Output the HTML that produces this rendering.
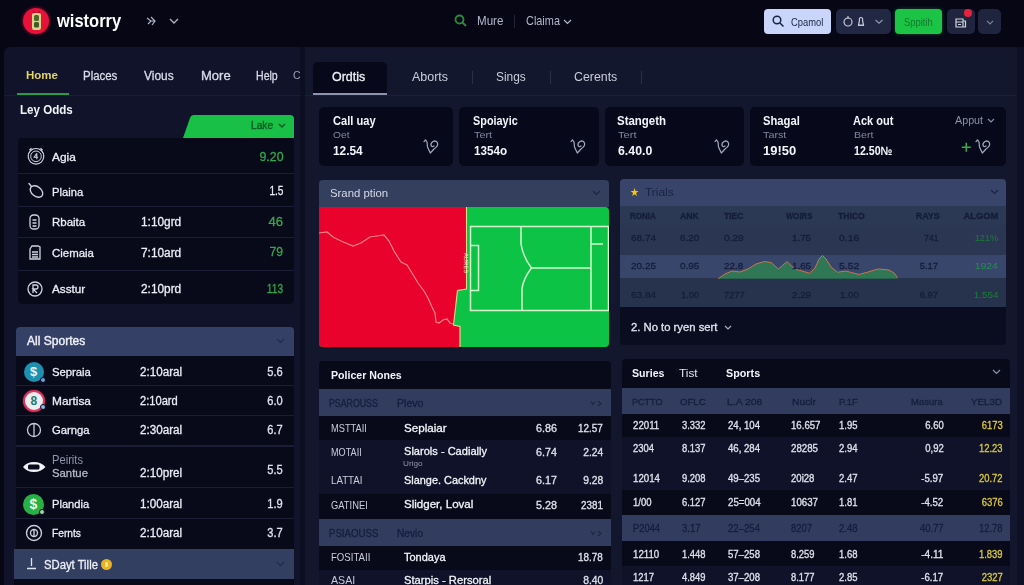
<!DOCTYPE html>
<html><head><meta charset="utf-8">
<style>
*{box-sizing:border-box;margin:0;padding:0}
html,body{width:1024px;height:585px;overflow:hidden;background:#060615;font-family:"Liberation Sans",sans-serif;color:#e8eaf2}
.a{position:absolute}
.t{position:absolute;white-space:nowrap;line-height:1;filter:blur(.3px)}
.card{background:#070819;border-radius:5px;top:107px;height:59px}
.slate{background:#313c5f}
.dark{background:#080919}
.mid{background:#0f1228}
.ln{height:1px;background:#1a1d33}
svg{position:absolute;overflow:visible}
</style></head><body>
<!-- HEADER -->
<div class="a" style="left:23px;top:7.500px;width:26px;height:26px;border-radius:50%;background:#e6123a;box-shadow:0 0 3px 1px rgba(230,18,58,.45)"></div>
<svg style="left:31px;top:11px" width="11" height="20" viewBox="0 0 11 20"><rect x="1" y="2" width="9" height="17" rx="2" fill="#dcd28c"/><rect x="3" y="4" width="5" height="6" rx="1.500" fill="#4d6a2a"/><rect x="3" y="11" width="5" height="5.500" rx="1.500" fill="#3f5a24"/><circle cx="3" cy="1.200" r=".8" fill="#7a1020"/><circle cx="8" cy="1.200" r=".8" fill="#7a1020"/></svg>
<svg style="left:144px;top:14px" width="14" height="14" viewBox="0 0 14 14" fill="none" stroke="#aeb3c6" stroke-width="1.2"><path d="M3 4l4 3-3 3M7 3l4 4-3 4M6 7l5 0"/></svg>
<svg style="left:169px;top:18px" width="10" height="6" viewBox="0 0 10 6" fill="none" stroke="#aeb3c6" stroke-width="1.3"><path d="M1 1l4 4 4-4"/></svg>
<svg style="left:454px;top:14px" width="14" height="14" viewBox="0 0 14 14"><circle cx="5.5" cy="5.5" r="4" fill="none" stroke="#2b8d3a" stroke-width="1.8"/><path d="M8.500 8.500L12 12" stroke="#2b8d3a" stroke-width="1.8"/></svg>
<div class="a" style="left:514px;top:15px;width:1px;height:13px;background:#20243a"></div>
<svg style="left:563px;top:18.500px" width="9" height="6" viewBox="0 0 9 6" fill="none" stroke="#b4b8cb" stroke-width="1.2"><path d="M1 1l3.500 3.500L8 1"/></svg>
<div class="a" style="left:764px;top:9px;width:67px;height:25px;border-radius:4px;background:#c9d5fa"></div>
<div class="a" style="left:836px;top:9px;width:55px;height:25px;border-radius:5px;background:#222843"></div>
<div class="a" style="left:895px;top:9px;width:47px;height:25px;border-radius:4px;background:#1cc446;box-shadow:0 0 4px rgba(28,196,70,.35)"></div>
<div class="a" style="left:947px;top:9px;width:27.500px;height:25px;border-radius:5px;background:#20253f"></div>
<div class="a" style="left:978px;top:9px;width:23px;height:25px;border-radius:5px;background:#20253f"></div>
<svg style="left:772px;top:15px" width="13" height="13" viewBox="0 0 13 13" fill="none" stroke="#1b2344" stroke-width="1.5"><circle cx="5" cy="5" r="3.800"/><path d="M8 8l3.500 3.500"/></svg>
<svg style="left:842px;top:15px" width="44" height="13" viewBox="0 0 44 13" fill="none" stroke="#c3c7d6" stroke-width="1.2"><circle cx="6" cy="7" r="4"/><path d="M6 1v3"/><path d="M19 2.500c-1.500 0-2 1.500-1.500 3l-1 4.500h5l-1-4.500c.5-1.500 0-3-1.500-3zM16 10.500h6"/><path d="M33.500 5l3.500 3.300L40.500 5" stroke="#8f96b0"/></svg>
<svg style="left:954px;top:16px" width="13" height="12" viewBox="0 0 13 12" fill="none" stroke="#d0d3df" stroke-width="1.2"><path d="M2 3h7v8H2zM9 5h2.500v6H9M2 6h7M4 8.500h3"/></svg>
<div class="a" style="left:964px;top:8.500px;width:8px;height:8px;border-radius:50%;background:#e8213f"></div>
<svg style="left:985.500px;top:19.500px" width="8" height="5" viewBox="0 0 8 5" fill="none" stroke="#7a82a0" stroke-width="1.2"><path d="M1 .8l3 3 3-3"/></svg>

<!-- PANELS -->
<div class="a" style="left:4px;top:47px;width:297px;height:538px;background:#10132a;border-radius:6px 0 0 0"></div>
<div class="a" style="left:300px;top:47px;width:5px;height:538px;background:#0c0e22"></div>
<div class="a" style="left:305px;top:47px;width:712px;height:538px;background:#13172e"></div>
<div class="a" style="left:1017px;top:47px;width:7px;height:538px;background:#0e1126"></div>
<div class="a" style="left:4px;top:95px;width:297px;height:1px;background:#1a1e35"></div>
<div class="a" style="left:305px;top:95px;width:712px;height:1px;background:#1b2038"></div>
<div class="a" style="left:17px;top:93px;width:52px;height:2px;background:#2a9a45"></div>

<!-- GREEN TAB -->
<svg style="left:180px;top:115px" width="116" height="23" viewBox="0 0 116 23"><path d="M3 23 L10 3 Q11 0 14 0 L110 0 Q114 0 114 4 L114 23 Z" fill="#18c045"/></svg>
<svg style="left:278px;top:123px" width="8" height="6" viewBox="0 0 8 6" fill="none" stroke="#0c5a25" stroke-width="1.4"><path d="M1 1l3 3 3-3"/></svg>
<!-- LEY ODDS LIST -->
<div class="a dark" style="left:18px;top:138px;width:276px;height:166px;border-radius:4px"></div>
<div class="a ln" style="left:18px;top:173px;width:276px"></div>
<div class="a ln" style="left:18px;top:206px;width:276px"></div>
<div class="a ln" style="left:18px;top:237px;width:276px"></div>
<div class="a ln" style="left:18px;top:270px;width:276px"></div>
<svg style="left:26px;top:145.500px" width="20" height="20" viewBox="0 0 20 20" fill="none" stroke="#d0d3df" stroke-width="1.2"><circle cx="10" cy="10.300" r="7.800"/><circle cx="10" cy="10.300" r="5.300" stroke-width="1"/><path d="M10.800 7.300l-2.600 4h4M10.800 7.300v6" stroke-width="1.100"/><path d="M3.500 4.200l2-2M16.500 4.200l-2-2" stroke-width="1.400"/></svg>
<svg style="left:26px;top:181px" width="20" height="19" viewBox="0 0 20 19" fill="none" stroke="#d0d3df" stroke-width="1.400" stroke-linecap="round"><path d="M3 2.500l2.500 3"/><ellipse cx="10.500" cy="10.500" rx="7" ry="4.800" transform="rotate(38 10.500 10.500)"/></svg>
<svg style="left:27px;top:213px" width="16" height="18" viewBox="0 0 16 18" fill="none" stroke="#d0d3df" stroke-width="1.3"><rect x="3" y="2" width="9" height="14" rx="3.500"/><path d="M5.500 7h4M5.500 10h4M5.500 13h4"/></svg>
<svg style="left:27px;top:244px" width="16" height="18" viewBox="0 0 16 18" fill="none" stroke="#d0d3df" stroke-width="1.3"><path d="M3 5l2-3h6l2 1v12H3z"/><path d="M5 8h6M5 10.500h6M5 13h6"/></svg>
<svg style="left:26px;top:280px" width="18" height="18" viewBox="0 0 18 18" fill="none" stroke="#d0d3df" stroke-width="1.3"><circle cx="9" cy="9" r="7"/><path d="M7 13V5h3a2 2 0 010 4H7l4 4"/></svg>

<!-- ALL SPORTES -->
<div class="a" style="left:16px;top:327px;width:278px;height:29px;border-radius:4px 4px 0 0;background:#344065"></div>
<svg style="left:276px;top:338px" width="9" height="6" viewBox="0 0 9 6" fill="none" stroke="#222b4c" stroke-width="1.2"><path d="M1 1l3.500 3.500L8 1"/></svg>
<div class="a dark" style="left:16px;top:356px;width:278px;height:193px"></div>
<div class="a ln" style="left:16px;top:385px;width:278px"></div>
<div class="a ln" style="left:16px;top:415px;width:278px"></div>
<div class="a ln" style="left:16px;top:445px;width:278px;height:2px"></div>
<div class="a ln" style="left:16px;top:487px;width:278px"></div>
<div class="a ln" style="left:16px;top:518px;width:278px"></div>
<div class="a" style="left:14px;top:549px;width:280px;height:30px;background:#333f60"></div>
<div class="a dark" style="left:14px;top:579px;width:280px;height:6px"></div>
<svg style="left:26px;top:557px" width="11" height="13" viewBox="0 0 11 13" fill="none" stroke="#dfe2ee" stroke-width="1.3"><path d="M5.500 1v8M1 11.500h9"/></svg>
<div class="a" style="left:101px;top:559px;width:11px;height:11px;border-radius:50%;background:#e9b320"></div>
<div class="a" style="left:105px;top:562px;width:3px;height:5px;border-radius:1px;background:#f7e08a"></div>
<svg style="left:276px;top:561px" width="9" height="6" viewBox="0 0 9 6" fill="none" stroke="#222b4c" stroke-width="1.2"><path d="M1 1l3.500 3.500L8 1"/></svg>
<!-- sport icons -->
<div class="a" style="left:24px;top:362px;width:20px;height:20px;border-radius:50%;background:#1d90b0"></div>
<div class="a" style="left:30px;top:365px;font-size:13px;font-weight:bold;color:#e6f6fa;line-height:14px">$</div>
<div class="a" style="left:23px;top:390px;width:22px;height:22px;border-radius:50%;background:#ececf2;border:2px solid #d9365c;box-shadow:0 0 2px rgba(217,54,92,.6)"></div>
<div class="a" style="left:30.500px;top:394px;font-size:12px;font-weight:bold;color:#1a7a6a;line-height:14px">8</div>
<svg style="left:25px;top:421px" width="18" height="18" viewBox="0 0 18 18" fill="none" stroke="#c8ccd8" stroke-width="1.3"><circle cx="9" cy="9" r="6.500"/><path d="M9 3v12"/></svg>
<svg style="left:22px;top:461px" width="24" height="12" viewBox="0 0 24 12"><path d="M1 6Q5 1 12 1T23.500 6Q19 11 12 11T1 6Z" fill="#f2f3f8"/><rect x="6" y="3.500" width="11.500" height="5" rx="1.500" fill="#0a0b1c"/></svg>
<div class="a" style="left:23px;top:494px;width:21px;height:21px;border-radius:50%;background:#27b043"></div>
<div class="a" style="left:29.500px;top:497px;font-size:14px;font-weight:bold;color:#eafbe9;line-height:15px">$</div>
<svg style="left:24px;top:523px" width="20" height="20" viewBox="0 0 20 20" fill="none" stroke="#c8ccd8" stroke-width="1.4"><circle cx="10" cy="10" r="7.500"/><circle cx="10" cy="10" r="3.500"/><path d="M10 6.500v7"/></svg>

<div class="a" style="left:40px;top:377px;width:6px;height:6px;border-radius:50%;background:#6f9fca;border:1px solid #0a0b1c"></div>
<div class="a" style="left:40px;top:404px;width:6px;height:6px;border-radius:50%;background:#8fb8e2;border:1px solid #0a0b1c"></div>
<div class="a" style="left:39px;top:509px;width:6px;height:6px;border-radius:50%;background:#9fd4b0;border:1px solid #0a0b1c"></div>
<!-- MAIN TABS -->
<div class="a" style="left:313px;top:62px;width:74px;height:32px;background:#070819;border-radius:5px 5px 0 0"></div>
<div class="a" style="left:313px;top:93px;width:74px;height:2px;background:#8c93ad"></div>
<div class="a" style="left:472px;top:71px;width:1px;height:13px;background:#2a2f48"></div>
<div class="a" style="left:550px;top:71px;width:1px;height:13px;background:#2a2f48"></div>
<div class="a" style="left:641px;top:71px;width:1px;height:13px;background:#2a2f48"></div>
<!-- CARDS -->
<div class="a card" style="left:319px;width:134px"></div>
<div class="a card" style="left:459px;width:140px"></div>
<div class="a card" style="left:605px;width:139px"></div>
<div class="a card" style="left:750px;width:256px"></div>
<svg style="left:987px;top:117.500px" width="8" height="6" viewBox="0 0 8 6" fill="none" stroke="#8a90a8" stroke-width="1.2"><path d="M1 1l3 3 3-3"/></svg>
<svg style="left:961px;top:142px" width="11" height="11" viewBox="0 0 11 11" fill="none" stroke="#3aa84a" stroke-width="1.600"><path d="M5.300 .8v9M.8 5.300h9"/></svg>
<svg style="left:422px;top:138px" width="18" height="17" viewBox="0 0 18 17" fill="none" stroke="#a2a7bd" stroke-width="1.25" stroke-linejoin="round" stroke-linecap="round"><path d="M2 3.600L3.500 1.900L5 4L5.500 9L8.300 15L12 11Q16.500 8 15.500 5Q14 2 11 3.500Q8.500 5 9 7.500Q10 9.500 12 8"/></svg>
<svg style="left:569px;top:138px" width="18" height="17" viewBox="0 0 18 17" fill="none" stroke="#a2a7bd" stroke-width="1.25" stroke-linejoin="round" stroke-linecap="round"><path d="M2 3.600L3.500 1.900L5 4L5.500 9L8.300 15L12 11Q16.500 8 15.500 5Q14 2 11 3.500Q8.500 5 9 7.500Q10 9.500 12 8"/></svg>
<svg style="left:713px;top:138px" width="18" height="17" viewBox="0 0 18 17" fill="none" stroke="#a2a7bd" stroke-width="1.25" stroke-linejoin="round" stroke-linecap="round"><path d="M2 3.600L3.500 1.900L5 4L5.500 9L8.300 15L12 11Q16.500 8 15.500 5Q14 2 11 3.500Q8.500 5 9 7.500Q10 9.500 12 8"/></svg>
<svg style="left:974px;top:138px" width="18" height="17" viewBox="0 0 18 17" fill="none" stroke="#a2a7bd" stroke-width="1.25" stroke-linejoin="round" stroke-linecap="round"><path d="M2 3.600L3.500 1.900L5 4L5.500 9L8.300 15L12 11Q16.500 8 15.500 5Q14 2 11 3.500Q8.500 5 9 7.500Q10 9.500 12 8"/></svg>
<!-- SRAND PTION -->
<div class="a" style="left:319px;top:180px;width:290px;height:27px;background:#343f5e;border-radius:4px 4px 0 0"></div>
<svg style="left:592px;top:190px" width="9" height="6" viewBox="0 0 9 6" fill="none" stroke="#1c2540" stroke-width="1.2"><path d="M1 1l3.500 3.500L8 1"/></svg>
<svg style="left:319px;top:207px" width="290" height="140" viewBox="0 0 290 140">
<defs><clipPath id="cp"><path d="M0 0H286Q290 0 290 4V136Q290 140 286 140H4Q0 140 0 136Z"/></clipPath></defs>
<g clip-path="url(#cp)">
<rect width="290" height="140" fill="#0cc345"/>
<path d="M0 0H147.500V82L138.500 83.500L134.500 118L141 119.500V140H0Z" fill="#e8022c"/>
<path d="M147.500 0V82L138.500 83.500L134.500 118L141 119.500V140" fill="none" stroke="#ecd98a" stroke-width="1.100"/>
<text x="0" y="0" transform="translate(145.300 46) rotate(90)" font-size="5.500" font-family="Liberation Sans" fill="#f3e9d0" letter-spacing=".3">AURES</text>
<path d="M0 26L8 25L14 30L22 34L34 39L42 36L51 30L58 29L65 28L70 34L75 44L82 55L88 58L93 66L99 76L105 84L109 91L113 100L116 106L117 115L120 116L124 113L128 112L131 116L134 117" fill="none" stroke="#ff8585" stroke-width="1.2"/>
<g fill="none" stroke="#d6fbcf" stroke-width="1.5">
<path d="M151.500 19.500H289.500V103.500H151.500Z"/>
<path d="M151.500 38.500H159.500V83.500H151.500"/>
<path d="M202 19.500V37Q204 50 212.500 61Q204 72 203 82V103.500"/>
<path d="M212.500 61H272"/>
<path d="M272 19.500V103.500"/>
<path d="M272 37H284"/>
</g>
</g></svg>
<!-- TRAILS -->
<div class="a" style="left:620px;top:179px;width:386px;height:27px;background:#38446a;border-radius:4px 4px 0 0"></div>
<div class="a" style="left:620px;top:206px;width:386px;height:19px;background:#2b3955"></div>
<div class="a" style="left:620px;top:225px;width:386px;height:30px;background:#2a3652"></div>
<div class="a" style="left:620px;top:255px;width:386px;height:23px;background:#38466c"></div>
<div class="a" style="left:620px;top:278px;width:386px;height:29px;background:#27334d"></div>
<div class="a" style="left:620px;top:307px;width:386px;height:38px;background:#0a0c1f;border-radius:0 0 4px 4px"></div>
<svg style="left:990px;top:189px" width="9" height="6" viewBox="0 0 9 6" fill="none" stroke="#1c2540" stroke-width="1.2"><path d="M1 1l3.500 3.500L8 1"/></svg>
<svg style="left:715px;top:250px" width="190" height="30" viewBox="0 0 190 30">
<path d="M3.3 28.7L10 24L17 21L25 22L33 19L41 14L49.4 11.5L56 12.5L63.4 19L68 15L72 11.5L75.5 15L79.5 19L87 21L94.5 23.3L100 18L104 9L107.4 5.5L111 9L116 17L122.5 22.2L131 21L138 23L144 24.4L152.5 22.2L158 20.5L163.3 19L169 19.5L174 20L179 23L182.6 27.5L182.600 28.700Z" fill="#2c8a4c" opacity=".72"/>
<path d="M3.3 28.7L10 24L17 21L25 22L33 19L41 14L49.4 11.5L56 12.5L63.4 19L68 15L72 11.5L75.5 15L79.5 19L87 21L94.5 23.3L100 18L104 9L107.4 5.5L111 9L116 17L122.5 22.2L131 21L138 23L144 24.4L152.5 22.2L158 20.5L163.3 19L169 19.5L174 20L179 23L182.6 27.5" fill="none" stroke="#cf7448" stroke-width="1" stroke-linejoin="round"/>
</svg>
<svg style="left:724px;top:325px" width="8" height="6" viewBox="0 0 8 6" fill="none" stroke="#aab0c4" stroke-width="1.2"><path d="M1 1l3 3 3-3"/></svg>
<!-- POLICER NONES -->
<div class="a dark" style="left:319px;top:361px;width:292px;height:224px;border-radius:4px 4px 0 0"></div>
<div class="a slate" style="left:319px;top:389px;width:292px;height:27px"></div>
<div class="a mid" style="left:319px;top:440px;width:292px;height:54px"></div>
<div class="a slate" style="left:319px;top:519px;width:292px;height:27px"></div>
<div class="a mid" style="left:319px;top:570px;width:292px;height:15px"></div>
<svg style="left:590px;top:400px" width="12" height="7" viewBox="0 0 12 7" fill="none" stroke="#1c2540" stroke-width="1.1"><path d="M1 1.500l2 3 2-3M8 1l3 2.500-3 2.500"/></svg>
<svg style="left:590px;top:530px" width="12" height="7" viewBox="0 0 12 7" fill="none" stroke="#1c2540" stroke-width="1.1"><path d="M1 1.500l2 3 2-3M8 1l3 2.500-3 2.500"/></svg>
<!-- SURIES -->
<div class="a dark" style="left:622px;top:359px;width:388px;height:226px;border-radius:4px 4px 0 0"></div>
<div class="a slate" style="left:622px;top:388px;width:388px;height:26px"></div>
<div class="a mid" style="left:622px;top:437px;width:388px;height:53px"></div>
<div class="a slate" style="left:622px;top:515px;width:388px;height:26px"></div>
<div class="a mid" style="left:622px;top:566px;width:388px;height:19px"></div>
<svg style="left:992px;top:369px" width="9" height="6" viewBox="0 0 9 6" fill="none" stroke="#8b92aa" stroke-width="1.2"><path d="M1 1l3.500 3.500L8 1"/></svg>

<!-- TEXT -->
<div class="t" style="top:20.9px;font-size:18.5px;color:#ffffff;font-weight:bold;left:56.8px;transform-origin:left center;transform:translateY(-50%) scaleX(0.892);">wistorry</div>
<div class="t" style="top:21px;font-size:12.2px;color:#b4b8cb;left:477px;transform-origin:left center;transform:translateY(-50%) scaleX(0.950);">Mure</div>
<div class="t" style="top:21px;font-size:12.2px;color:#b4b8cb;left:526px;transform-origin:left center;transform:translateY(-50%) scaleX(0.895);">Claima</div>
<div class="t" style="top:21.5px;font-size:11px;color:#1b2344;left:790.7px;transform-origin:left center;transform:translateY(-50%) scaleX(0.850);">Cpamol</div>
<div class="t" style="top:21.5px;font-size:11px;color:#0f7a2a;left:903.6px;transform-origin:left center;transform:translateY(-50%) scaleX(0.856);">Sppitih</div>
<div class="t" style="top:75.9px;font-size:11.8px;color:#e2d566;font-weight:bold;left:26.1px;transform-origin:left center;transform:translateY(-50%) scaleX(0.976);">Home</div>
<div class="t" style="top:75.9px;font-size:12px;color:#d9dce8;left:82.7px;transform-origin:left center;transform:translateY(-50%) scaleX(0.953);-webkit-text-stroke:0.3px;">Places</div>
<div class="t" style="top:75.9px;font-size:12px;color:#d9dce8;left:144.2px;transform-origin:left center;transform:translateY(-50%) scaleX(0.993);-webkit-text-stroke:0.3px;">Vious</div>
<div class="t" style="top:75.9px;font-size:12px;color:#d9dce8;left:201px;transform-origin:left center;transform:translateY(-50%) scaleX(1.085);-webkit-text-stroke:0.3px;">More</div>
<div class="t" style="top:75.9px;font-size:12px;color:#d9dce8;left:256px;transform-origin:left center;transform:translateY(-50%) scaleX(0.880);-webkit-text-stroke:0.3px;">Help</div>
<div class="t" style="top:75.9px;font-size:11.5px;color:#9aa0b4;left:292.7px;transform-origin:left center;transform:translateY(-50%) scaleX(0.913);">C</div>
<div class="t" style="top:109.9px;font-size:12.3px;color:#f2f3f8;font-weight:bold;left:20.3px;transform-origin:left center;transform:translateY(-50%) scaleX(0.941);">Ley Odds</div>
<div class="t" style="top:126.2px;font-size:10.3px;color:#0c5a25;left:251.4px;transform-origin:left center;transform:translateY(-50%) scaleX(0.991);-webkit-text-stroke:0.4px;">Lake</div>
<div class="t" style="top:157.1px;font-size:11.7px;color:#eceef6;left:52px;transform-origin:left center;transform:translateY(-50%) scaleX(1.017);-webkit-text-stroke:0.3px;">Agia</div>
<div class="t" style="top:156.9px;font-size:12.6px;color:#33a84b;right:740.5px;transform-origin:right center;transform:translateY(-50%) scaleX(0.980);-webkit-text-stroke:0.3px;">9.20</div>
<div class="t" style="top:191.6px;font-size:11.7px;color:#eceef6;left:52px;transform-origin:left center;transform:translateY(-50%) scaleX(0.958);-webkit-text-stroke:0.3px;">Plaina</div>
<div class="t" style="top:191.4px;font-size:12.6px;color:#eceef6;right:740.5px;transform-origin:right center;transform:translateY(-50%) scaleX(0.806);-webkit-text-stroke:0.3px;">1.5</div>
<div class="t" style="top:222px;font-size:11.7px;color:#eceef6;left:52px;transform-origin:left center;transform:translateY(-50%) scaleX(0.982);-webkit-text-stroke:0.3px;">Rbaita</div>
<div class="t" style="top:222px;font-size:12px;color:#eceef6;left:140.7px;transform-origin:left center;transform:translateY(-50%) scaleX(0.988);-webkit-text-stroke:0.3px;">1:10grd</div>
<div class="t" style="top:221.8px;font-size:12.6px;color:#33a84b;right:740.5px;transform-origin:right center;transform:translateY(-50%) scaleX(1.036);-webkit-text-stroke:0.3px;">46</div>
<div class="t" style="top:252.5px;font-size:11.7px;color:#eceef6;left:52px;transform-origin:left center;transform:translateY(-50%) scaleX(0.977);-webkit-text-stroke:0.3px;">Ciemaia</div>
<div class="t" style="top:252.5px;font-size:12px;color:#eceef6;left:140.7px;transform-origin:left center;transform:translateY(-50%) scaleX(0.988);-webkit-text-stroke:0.3px;">7:10ard</div>
<div class="t" style="top:252.3px;font-size:12.6px;color:#33a84b;right:740.5px;transform-origin:right center;transform:translateY(-50%) scaleX(0.964);-webkit-text-stroke:0.3px;">79</div>
<div class="t" style="top:289.3px;font-size:11.7px;color:#eceef6;left:52px;transform-origin:left center;transform:translateY(-50%) scaleX(1.000);-webkit-text-stroke:0.3px;">Asstur</div>
<div class="t" style="top:289.3px;font-size:12px;color:#eceef6;left:140.7px;transform-origin:left center;transform:translateY(-50%) scaleX(0.988);-webkit-text-stroke:0.3px;">2:10prd</div>
<div class="t" style="top:289.1px;font-size:12.6px;color:#33a84b;right:740.5px;transform-origin:right center;transform:translateY(-50%) scaleX(0.810);-webkit-text-stroke:0.3px;">113</div>
<div class="t" style="top:341.4px;font-size:12px;color:#eef0f7;left:27px;transform-origin:left center;transform:translateY(-50%) scaleX(1.005);-webkit-text-stroke:0.4px;">All Sportes</div>
<div class="t" style="top:372px;font-size:11.7px;color:#eceef6;left:51.6px;transform-origin:left center;transform:translateY(-50%) scaleX(0.965);-webkit-text-stroke:0.3px;">Sepraia</div>
<div class="t" style="top:372px;font-size:12px;color:#eceef6;left:140px;transform-origin:left center;transform:translateY(-50%) scaleX(0.972);-webkit-text-stroke:0.3px;">2:10aral</div>
<div class="t" style="top:372px;font-size:12px;color:#dfe2ec;right:741.3px;transform-origin:right center;transform:translateY(-50%) scaleX(0.924);-webkit-text-stroke:0.3px;">5.6</div>
<div class="t" style="top:400.6px;font-size:11.7px;color:#eceef6;left:51.6px;transform-origin:left center;transform:translateY(-50%) scaleX(1.016);-webkit-text-stroke:0.3px;">Martisa</div>
<div class="t" style="top:400.6px;font-size:12px;color:#eceef6;left:140px;transform-origin:left center;transform:translateY(-50%) scaleX(0.927);-webkit-text-stroke:0.3px;">2:10ard</div>
<div class="t" style="top:400.6px;font-size:12px;color:#dfe2ec;right:741.3px;transform-origin:right center;transform:translateY(-50%) scaleX(0.924);-webkit-text-stroke:0.3px;">6.0</div>
<div class="t" style="top:430px;font-size:11.7px;color:#eceef6;left:51.6px;transform-origin:left center;transform:translateY(-50%) scaleX(0.964);-webkit-text-stroke:0.3px;">Garnga</div>
<div class="t" style="top:430px;font-size:12px;color:#eceef6;left:140px;transform-origin:left center;transform:translateY(-50%) scaleX(0.972);-webkit-text-stroke:0.3px;">2:30aral</div>
<div class="t" style="top:430px;font-size:12px;color:#dfe2ec;right:741.3px;transform-origin:right center;transform:translateY(-50%) scaleX(0.924);-webkit-text-stroke:0.3px;">6.7</div>
<div class="t" style="top:473.4px;font-size:11.7px;color:#b5b9c8;left:51.6px;transform-origin:left center;transform:translateY(-50%) scaleX(0.970);-webkit-text-stroke:0.3px;">Santue</div>
<div class="t" style="top:473.4px;font-size:12px;color:#eceef6;left:140px;transform-origin:left center;transform:translateY(-50%) scaleX(0.972);-webkit-text-stroke:0.3px;">2:10prel</div>
<div class="t" style="top:504px;font-size:11.7px;color:#eceef6;left:51.6px;transform-origin:left center;transform:translateY(-50%) scaleX(0.951);-webkit-text-stroke:0.3px;">Plandia</div>
<div class="t" style="top:504px;font-size:12px;color:#eceef6;left:140px;transform-origin:left center;transform:translateY(-50%) scaleX(0.972);-webkit-text-stroke:0.3px;">1:00aral</div>
<div class="t" style="top:504px;font-size:12px;color:#dfe2ec;right:741.3px;transform-origin:right center;transform:translateY(-50%) scaleX(0.924);-webkit-text-stroke:0.3px;">1.9</div>
<div class="t" style="top:533px;font-size:11.7px;color:#eceef6;left:51.6px;transform-origin:left center;transform:translateY(-50%) scaleX(0.873);-webkit-text-stroke:0.3px;">Fernts</div>
<div class="t" style="top:533px;font-size:12px;color:#eceef6;left:140px;transform-origin:left center;transform:translateY(-50%) scaleX(0.972);-webkit-text-stroke:0.3px;">2:10aral</div>
<div class="t" style="top:533px;font-size:12px;color:#dfe2ec;right:741.3px;transform-origin:right center;transform:translateY(-50%) scaleX(0.924);-webkit-text-stroke:0.3px;">3.7</div>
<div class="t" style="top:459.9px;font-size:12px;color:#8f94aa;left:52px;transform-origin:left center;transform:translateY(-50%) scaleX(0.930);">Peirits</div>
<div class="t" style="top:470px;font-size:12px;color:#dfe2ec;right:741.3px;transform-origin:right center;transform:translateY(-50%) scaleX(0.924);-webkit-text-stroke:0.3px;">5.5</div>
<div class="t" style="top:565px;font-size:12px;color:#eef0f7;left:43.9px;transform-origin:left center;transform:translateY(-50%) scaleX(0.940);-webkit-text-stroke:0.3px;">SDayt Tille</div>
<div class="t" style="top:77.4px;font-size:12.3px;color:#f0f1f7;left:332.2px;transform-origin:left center;transform:translateY(-50%) scaleX(1.012);-webkit-text-stroke:0.3px;">Ordtis</div>
<div class="t" style="top:77.4px;font-size:12.3px;color:#c9cddb;left:411.9px;transform-origin:left center;transform:translateY(-50%) scaleX(1.014);">Aborts</div>
<div class="t" style="top:77.4px;font-size:12.3px;color:#c9cddb;left:496.3px;transform-origin:left center;transform:translateY(-50%) scaleX(0.968);">Sings</div>
<div class="t" style="top:77.4px;font-size:12.3px;color:#c9cddb;left:574px;transform-origin:left center;transform:translateY(-50%) scaleX(1.005);">Cerents</div>
<div class="t" style="top:120.5px;font-size:12.2px;color:#f4f5fa;font-weight:bold;left:332.8px;transform-origin:left center;transform:translateY(-50%) scaleX(0.911);">Call uay</div>
<div class="t" style="top:135.3px;font-size:9.8px;color:#8187a0;left:333.3px;transform-origin:left center;transform:translateY(-50%) scaleX(1.044);">Oet</div>
<div class="t" style="top:150.5px;font-size:12px;color:#f4f5fa;font-weight:bold;left:333.3px;transform-origin:left center;transform:translateY(-50%) scaleX(0.990);">12.54</div>
<div class="t" style="top:120.5px;font-size:12.2px;color:#f4f5fa;font-weight:bold;left:473.4px;transform-origin:left center;transform:translateY(-50%) scaleX(0.892);">Spoiayic</div>
<div class="t" style="top:135.3px;font-size:9.8px;color:#8187a0;left:473.9px;transform-origin:left center;transform:translateY(-50%) scaleX(1.106);">Tert</div>
<div class="t" style="top:150.5px;font-size:12px;color:#f4f5fa;font-weight:bold;left:473.9px;transform-origin:left center;transform:translateY(-50%) scaleX(0.971);">1354o</div>
<div class="t" style="top:120.5px;font-size:12.2px;color:#f4f5fa;font-weight:bold;left:617.4px;transform-origin:left center;transform:translateY(-50%) scaleX(0.940);">Stangeth</div>
<div class="t" style="top:135.3px;font-size:9.8px;color:#8187a0;left:617.9px;transform-origin:left center;transform:translateY(-50%) scaleX(1.131);">Tert</div>
<div class="t" style="top:150.5px;font-size:12px;color:#f4f5fa;font-weight:bold;left:617.9px;transform-origin:left center;transform:translateY(-50%) scaleX(1.027);">6.40.0</div>
<div class="t" style="top:120.5px;font-size:12.2px;color:#f4f5fa;font-weight:bold;left:762.7px;transform-origin:left center;transform:translateY(-50%) scaleX(0.922);">Shagal</div>
<div class="t" style="top:135.3px;font-size:9.8px;color:#8187a0;left:763.2px;transform-origin:left center;transform:translateY(-50%) scaleX(1.100);">Tarst</div>
<div class="t" style="top:150.5px;font-size:12px;color:#f4f5fa;font-weight:bold;left:763.2px;transform-origin:left center;transform:translateY(-50%) scaleX(1.081);">19!50</div>
<div class="t" style="top:120.5px;font-size:12.2px;color:#f4f5fa;font-weight:bold;left:853.4px;transform-origin:left center;transform:translateY(-50%) scaleX(0.902);">Ack out</div>
<div class="t" style="top:135.3px;font-size:9.8px;color:#8187a0;left:853.9px;transform-origin:left center;transform:translateY(-50%) scaleX(1.078);">Bert</div>
<div class="t" style="top:150.5px;font-size:12px;color:#f4f5fa;font-weight:bold;left:853.9px;transform-origin:left center;transform:translateY(-50%) scaleX(0.886);">12.50№</div>
<div class="t" style="top:120px;font-size:11px;color:#8a90a8;left:954.6px;transform-origin:left center;transform:translateY(-50%) scaleX(0.976);">Apput</div>
<div class="t" style="top:192.7px;font-size:11px;color:#d5d9e8;left:329.9px;transform-origin:left center;transform:translateY(-50%) scaleX(1.032);">Srand ption</div>
<div class="t" style="top:191.5px;font-size:11px;color:#f5c518;left:629.7px;transform-origin:left center;transform:translateY(-50%) scaleX(0.930);">★</div>
<div class="t" style="top:192.3px;font-size:11px;color:#1a2342;left:645.3px;transform-origin:left center;transform:translateY(-50%) scaleX(1.085);">Trials</div>
<div class="t" style="top:216.6px;font-size:9.2px;color:#151d3a;font-weight:bold;left:630.2px;transform-origin:left center;transform:translateY(-50%) scaleX(0.870);-webkit-text-stroke:0.3px;">RONIA</div>
<div class="t" style="top:216.6px;font-size:9.2px;color:#151d3a;font-weight:bold;left:679.7px;transform-origin:left center;transform:translateY(-50%) scaleX(0.940);-webkit-text-stroke:0.3px;">ANK</div>
<div class="t" style="top:216.6px;font-size:9.2px;color:#151d3a;font-weight:bold;left:724.2px;transform-origin:left center;transform:translateY(-50%) scaleX(0.933);-webkit-text-stroke:0.3px;">TIEC</div>
<div class="t" style="top:216.6px;font-size:9.2px;color:#151d3a;font-weight:bold;left:785.9px;transform-origin:left center;transform:translateY(-50%) scaleX(0.848);-webkit-text-stroke:0.3px;">WOIRS</div>
<div class="t" style="top:216.6px;font-size:9.2px;color:#151d3a;font-weight:bold;left:837.7px;transform-origin:left center;transform:translateY(-50%) scaleX(0.934);-webkit-text-stroke:0.3px;">THICO</div>
<div class="t" style="top:216.6px;font-size:9.2px;color:#151d3a;font-weight:bold;right:84.4px;transform-origin:right center;transform:translateY(-50%) scaleX(0.972);-webkit-text-stroke:0.3px;">RAYS</div>
<div class="t" style="top:216.6px;font-size:9.2px;color:#151d3a;font-weight:bold;right:25.8px;transform-origin:right center;transform:translateY(-50%) scaleX(1.012);-webkit-text-stroke:0.3px;">ALGOM</div>
<div class="t" style="top:237.6px;font-size:9.8px;color:#151d3a;left:630.5px;transform-origin:left center;transform:translateY(-50%) scaleX(1.020);-webkit-text-stroke:0.3px;">68.74</div>
<div class="t" style="top:237.6px;font-size:9.8px;color:#151d3a;left:679.7px;transform-origin:left center;transform:translateY(-50%) scaleX(1.016);-webkit-text-stroke:0.3px;">6.20</div>
<div class="t" style="top:237.6px;font-size:9.8px;color:#151d3a;left:724.2px;transform-origin:left center;transform:translateY(-50%) scaleX(1.032);-webkit-text-stroke:0.3px;">0.29</div>
<div class="t" style="top:237.6px;font-size:9.8px;color:#151d3a;left:792px;transform-origin:left center;transform:translateY(-50%) scaleX(1.000);-webkit-text-stroke:0.3px;">1.75</div>
<div class="t" style="top:237.6px;font-size:9.8px;color:#151d3a;left:838.5px;transform-origin:left center;transform:translateY(-50%) scaleX(1.063);-webkit-text-stroke:0.3px;">0.16</div>
<div class="t" style="top:237.6px;font-size:9.8px;color:#151d3a;right:85.7px;transform-origin:right center;transform:translateY(-50%) scaleX(0.856);-webkit-text-stroke:0.3px;">741</div>
<div class="t" style="top:237.6px;font-size:9.8px;color:#1c7d38;right:25.8px;transform-origin:right center;transform:translateY(-50%) scaleX(0.928);">121%</div>
<div class="t" style="top:265.9px;font-size:9.8px;color:#151d3a;left:630.5px;transform-origin:left center;transform:translateY(-50%) scaleX(1.020);-webkit-text-stroke:0.3px;">20.25</div>
<div class="t" style="top:265.9px;font-size:9.8px;color:#151d3a;left:679.7px;transform-origin:left center;transform:translateY(-50%) scaleX(1.016);-webkit-text-stroke:0.3px;">0.95</div>
<div class="t" style="top:265.9px;font-size:9.8px;color:#151d3a;left:724.2px;transform-origin:left center;transform:translateY(-50%) scaleX(1.011);-webkit-text-stroke:0.3px;">22.8</div>
<div class="t" style="top:265.9px;font-size:9.8px;color:#151d3a;left:792px;transform-origin:left center;transform:translateY(-50%) scaleX(1.000);-webkit-text-stroke:0.3px;">1.65</div>
<div class="t" style="top:265.9px;font-size:9.8px;color:#151d3a;left:838.5px;transform-origin:left center;transform:translateY(-50%) scaleX(1.063);-webkit-text-stroke:0.3px;">5.52</div>
<div class="t" style="top:265.9px;font-size:9.8px;color:#151d3a;right:85.7px;transform-origin:right center;transform:translateY(-50%) scaleX(0.963);-webkit-text-stroke:0.3px;">5.17</div>
<div class="t" style="top:265.9px;font-size:9.8px;color:#1f9444;right:25.8px;transform-origin:right center;transform:translateY(-50%) scaleX(1.055);">1924</div>
<div class="t" style="top:294.6px;font-size:9.8px;color:#151d3a;left:630.5px;transform-origin:left center;transform:translateY(-50%) scaleX(1.020);-webkit-text-stroke:0.3px;">63.84</div>
<div class="t" style="top:294.6px;font-size:9.8px;color:#151d3a;left:681px;transform-origin:left center;transform:translateY(-50%) scaleX(0.947);-webkit-text-stroke:0.3px;">1.00</div>
<div class="t" style="top:294.6px;font-size:9.8px;color:#151d3a;left:724.2px;transform-origin:left center;transform:translateY(-50%) scaleX(0.945);-webkit-text-stroke:0.3px;">7277</div>
<div class="t" style="top:294.6px;font-size:9.8px;color:#151d3a;left:792px;transform-origin:left center;transform:translateY(-50%) scaleX(1.000);-webkit-text-stroke:0.3px;">2.29</div>
<div class="t" style="top:294.6px;font-size:9.8px;color:#151d3a;left:840px;transform-origin:left center;transform:translateY(-50%) scaleX(0.984);-webkit-text-stroke:0.3px;">1.00</div>
<div class="t" style="top:294.6px;font-size:9.8px;color:#151d3a;right:85.7px;transform-origin:right center;transform:translateY(-50%) scaleX(0.963);-webkit-text-stroke:0.3px;">6.97</div>
<div class="t" style="top:294.6px;font-size:9.8px;color:#1c7d38;right:25.8px;transform-origin:right center;transform:translateY(-50%) scaleX(1.008);">1.554</div>
<div class="t" style="top:327.7px;font-size:11.5px;color:#e2e5f0;left:631px;transform-origin:left center;transform:translateY(-50%) scaleX(0.980);-webkit-text-stroke:0.3px;">2. No to ryen sert</div>
<div class="t" style="top:374.9px;font-size:11px;color:#f4f5fa;font-weight:bold;left:330.8px;transform-origin:left center;transform:translateY(-50%) scaleX(0.964);">Policer Nones</div>
<div class="t" style="top:403.8px;font-size:10px;color:#161e3d;left:329.3px;transform-origin:left center;transform:translateY(-50%) scaleX(0.879);-webkit-text-stroke:0.3px;">PSAROUSS</div>
<div class="t" style="top:403.8px;font-size:10px;color:#161e3d;left:397.3px;transform-origin:left center;transform:translateY(-50%) scaleX(1.060);-webkit-text-stroke:0.3px;">Plevo</div>
<div class="t" style="top:534px;font-size:10px;color:#161e3d;left:329.3px;transform-origin:left center;transform:translateY(-50%) scaleX(0.965);-webkit-text-stroke:0.3px;">PSIAOUSS</div>
<div class="t" style="top:534px;font-size:10px;color:#161e3d;left:397.3px;transform-origin:left center;transform:translateY(-50%) scaleX(1.019);-webkit-text-stroke:0.3px;">Nevio</div>
<div class="t" style="top:428.8px;font-size:10.3px;color:#c9cddb;left:330.8px;transform-origin:left center;transform:translateY(-50%) scaleX(0.900);">MSTTAII</div>
<div class="t" style="top:428.6px;font-size:11.3px;color:#f4f5fa;left:403.5px;transform-origin:left center;transform:translateY(-50%) scaleX(1.029);-webkit-text-stroke:0.3px;">Seplaiar</div>
<div class="t" style="top:428.8px;font-size:10.3px;color:#dfe2ec;right:467px;transform-origin:right center;transform:translateY(-50%) scaleX(1.045);-webkit-text-stroke:0.3px;">6.86</div>
<div class="t" style="top:428.8px;font-size:10.3px;color:#dfe2ec;right:420.8px;transform-origin:right center;transform:translateY(-50%) scaleX(0.962);-webkit-text-stroke:0.3px;">12.57</div>
<div class="t" style="top:452.6px;font-size:10.3px;color:#c9cddb;left:330.8px;transform-origin:left center;transform:translateY(-50%) scaleX(0.886);">MOTAII</div>
<div class="t" style="top:452.40000000000003px;font-size:11.3px;color:#f4f5fa;left:403.5px;transform-origin:left center;transform:translateY(-50%) scaleX(0.979);-webkit-text-stroke:0.3px;">Slarols - Cadially</div>
<div class="t" style="top:452.6px;font-size:10.3px;color:#dfe2ec;right:467px;transform-origin:right center;transform:translateY(-50%) scaleX(1.045);-webkit-text-stroke:0.3px;">6.74</div>
<div class="t" style="top:452.6px;font-size:10.3px;color:#dfe2ec;right:420.8px;transform-origin:right center;transform:translateY(-50%) scaleX(1.000);-webkit-text-stroke:0.3px;">2.24</div>
<div class="t" style="top:480.7px;font-size:10.3px;color:#c9cddb;left:330.8px;transform-origin:left center;transform:translateY(-50%) scaleX(0.945);">LATTAI</div>
<div class="t" style="top:480.5px;font-size:11.3px;color:#f4f5fa;left:403.5px;transform-origin:left center;transform:translateY(-50%) scaleX(0.965);-webkit-text-stroke:0.3px;">Slange. Cackdny</div>
<div class="t" style="top:480.7px;font-size:10.3px;color:#dfe2ec;right:467px;transform-origin:right center;transform:translateY(-50%) scaleX(1.045);-webkit-text-stroke:0.3px;">6.17</div>
<div class="t" style="top:480.7px;font-size:10.3px;color:#dfe2ec;right:420.8px;transform-origin:right center;transform:translateY(-50%) scaleX(1.000);-webkit-text-stroke:0.3px;">9.28</div>
<div class="t" style="top:505.5px;font-size:10.3px;color:#c9cddb;left:330.8px;transform-origin:left center;transform:translateY(-50%) scaleX(0.910);">GATINEI</div>
<div class="t" style="top:505.3px;font-size:11.3px;color:#f4f5fa;left:403.5px;transform-origin:left center;transform:translateY(-50%) scaleX(1.022);-webkit-text-stroke:0.3px;">Slidger, Loval</div>
<div class="t" style="top:505.5px;font-size:10.3px;color:#dfe2ec;right:467px;transform-origin:right center;transform:translateY(-50%) scaleX(1.045);-webkit-text-stroke:0.3px;">5.28</div>
<div class="t" style="top:505.5px;font-size:10.3px;color:#dfe2ec;right:420.8px;transform-origin:right center;transform:translateY(-50%) scaleX(0.957);-webkit-text-stroke:0.3px;">2381</div>
<div class="t" style="top:558.3px;font-size:10.3px;color:#c9cddb;left:330.8px;transform-origin:left center;transform:translateY(-50%) scaleX(0.933);">FOSITAII</div>
<div class="t" style="top:558.0999999999999px;font-size:11.3px;color:#f4f5fa;left:403.5px;transform-origin:left center;transform:translateY(-50%) scaleX(0.974);-webkit-text-stroke:0.3px;">Tondaya</div>
<div class="t" style="top:558.3px;font-size:10.3px;color:#dfe2ec;right:420.8px;transform-origin:right center;transform:translateY(-50%) scaleX(0.962);-webkit-text-stroke:0.3px;">18.78</div>
<div class="t" style="top:581.3px;font-size:10.3px;color:#c9cddb;left:330.8px;transform-origin:left center;transform:translateY(-50%) scaleX(1.030);">ASAI</div>
<div class="t" style="top:581.0999999999999px;font-size:11.3px;color:#f4f5fa;left:403.5px;transform-origin:left center;transform:translateY(-50%) scaleX(0.992);-webkit-text-stroke:0.3px;">Starpis - Rersoral</div>
<div class="t" style="top:581.3px;font-size:10.3px;color:#dfe2ec;right:420.8px;transform-origin:right center;transform:translateY(-50%) scaleX(1.000);-webkit-text-stroke:0.3px;">8.40</div>
<div class="t" style="top:464.1px;font-size:8px;color:#9197ad;left:402.7px;transform-origin:left center;transform:translateY(-50%) scaleX(1.026);">Urigo</div>
<div class="t" style="top:372.7px;font-size:11px;color:#f4f5fa;font-weight:bold;left:632.2px;transform-origin:left center;transform:translateY(-50%) scaleX(0.965);">Suries</div>
<div class="t" style="top:372.7px;font-size:11px;color:#dfe2ec;left:679.4px;transform-origin:left center;transform:translateY(-50%) scaleX(1.076);">Tist</div>
<div class="t" style="top:372.7px;font-size:11px;color:#f4f5fa;font-weight:bold;left:725.5px;transform-origin:left center;transform:translateY(-50%) scaleX(0.980);">Sports</div>
<div class="t" style="top:401.5px;font-size:9.8px;color:#161e3d;left:632.2px;transform-origin:left center;transform:translateY(-50%) scaleX(0.921);-webkit-text-stroke:0.3px;">PCTTO</div>
<div class="t" style="top:401.5px;font-size:9.8px;color:#161e3d;left:679.5px;transform-origin:left center;transform:translateY(-50%) scaleX(0.981);-webkit-text-stroke:0.3px;">OFLC</div>
<div class="t" style="top:401.5px;font-size:9.8px;color:#161e3d;left:726.5px;transform-origin:left center;transform:translateY(-50%) scaleX(1.064);-webkit-text-stroke:0.3px;">L.A 208</div>
<div class="t" style="top:401.5px;font-size:9.8px;color:#161e3d;left:792px;transform-origin:left center;transform:translateY(-50%) scaleX(1.052);-webkit-text-stroke:0.3px;">Nuclr</div>
<div class="t" style="top:401.5px;font-size:9.8px;color:#161e3d;left:838.5px;transform-origin:left center;transform:translateY(-50%) scaleX(0.958);-webkit-text-stroke:0.3px;">P.1F</div>
<div class="t" style="top:401.5px;font-size:9.8px;color:#161e3d;right:81.6px;transform-origin:right center;transform:translateY(-50%) scaleX(0.970);-webkit-text-stroke:0.3px;">Masura</div>
<div class="t" style="top:401.5px;font-size:9.8px;color:#161e3d;right:21.8px;transform-origin:right center;transform:translateY(-50%) scaleX(1.003);-webkit-text-stroke:0.3px;">YEL3D</div>
<div class="t" style="top:426.1px;font-size:10.2px;color:#dfe2ec;left:632.8px;transform-origin:left center;transform:translateY(-50%) scaleX(0.952);-webkit-text-stroke:0.3px;">22011</div>
<div class="t" style="top:426.1px;font-size:10.2px;color:#dfe2ec;left:681.5px;transform-origin:left center;transform:translateY(-50%) scaleX(0.923);-webkit-text-stroke:0.3px;">3.332</div>
<div class="t" style="top:426.1px;font-size:10.2px;color:#dfe2ec;left:727.8px;transform-origin:left center;transform:translateY(-50%) scaleX(0.941);-webkit-text-stroke:0.3px;">24, 104</div>
<div class="t" style="top:426.1px;font-size:10.2px;color:#dfe2ec;left:790.5px;transform-origin:left center;transform:translateY(-50%) scaleX(0.946);-webkit-text-stroke:0.3px;">16.657</div>
<div class="t" style="top:426.1px;font-size:10.2px;color:#dfe2ec;left:838.5px;transform-origin:left center;transform:translateY(-50%) scaleX(0.933);-webkit-text-stroke:0.3px;">1.95</div>
<div class="t" style="top:426.1px;font-size:10.2px;color:#dfe2ec;right:80.4px;transform-origin:right center;transform:translateY(-50%) scaleX(0.933);-webkit-text-stroke:0.3px;">6.60</div>
<div class="t" style="top:426.1px;font-size:10.2px;color:#dccb3e;right:21.8px;transform-origin:right center;transform:translateY(-50%) scaleX(0.927);-webkit-text-stroke:0.3px;">6173</div>
<div class="t" style="top:449px;font-size:10.2px;color:#dfe2ec;left:632.8px;transform-origin:left center;transform:translateY(-50%) scaleX(0.927);-webkit-text-stroke:0.3px;">2304</div>
<div class="t" style="top:449px;font-size:10.2px;color:#dfe2ec;left:681.5px;transform-origin:left center;transform:translateY(-50%) scaleX(0.923);-webkit-text-stroke:0.3px;">8.137</div>
<div class="t" style="top:449px;font-size:10.2px;color:#dfe2ec;left:727.8px;transform-origin:left center;transform:translateY(-50%) scaleX(0.941);-webkit-text-stroke:0.3px;">46, 284</div>
<div class="t" style="top:449px;font-size:10.2px;color:#dfe2ec;left:790.5px;transform-origin:left center;transform:translateY(-50%) scaleX(0.952);-webkit-text-stroke:0.3px;">28285</div>
<div class="t" style="top:449px;font-size:10.2px;color:#dfe2ec;left:838.5px;transform-origin:left center;transform:translateY(-50%) scaleX(0.933);-webkit-text-stroke:0.3px;">2.94</div>
<div class="t" style="top:449px;font-size:10.2px;color:#dfe2ec;right:80.4px;transform-origin:right center;transform:translateY(-50%) scaleX(0.933);-webkit-text-stroke:0.3px;">0,92</div>
<div class="t" style="top:449px;font-size:10.2px;color:#dccb3e;right:21.8px;transform-origin:right center;transform:translateY(-50%) scaleX(0.923);-webkit-text-stroke:0.3px;">12.23</div>
<div class="t" style="top:478.8px;font-size:10.2px;color:#dfe2ec;left:632.8px;transform-origin:left center;transform:translateY(-50%) scaleX(0.952);-webkit-text-stroke:0.3px;">12014</div>
<div class="t" style="top:478.8px;font-size:10.2px;color:#dfe2ec;left:681.5px;transform-origin:left center;transform:translateY(-50%) scaleX(0.923);-webkit-text-stroke:0.3px;">9.208</div>
<div class="t" style="top:478.8px;font-size:10.2px;color:#dfe2ec;left:727.8px;transform-origin:left center;transform:translateY(-50%) scaleX(0.941);-webkit-text-stroke:0.3px;">49–235</div>
<div class="t" style="top:478.8px;font-size:10.2px;color:#dfe2ec;left:790.5px;transform-origin:left center;transform:translateY(-50%) scaleX(0.938);-webkit-text-stroke:0.3px;">20i28</div>
<div class="t" style="top:478.8px;font-size:10.2px;color:#dfe2ec;left:838.5px;transform-origin:left center;transform:translateY(-50%) scaleX(0.933);-webkit-text-stroke:0.3px;">2.47</div>
<div class="t" style="top:478.8px;font-size:10.2px;color:#dfe2ec;right:80.4px;transform-origin:right center;transform:translateY(-50%) scaleX(0.950);-webkit-text-stroke:0.3px;">-5.97</div>
<div class="t" style="top:478.8px;font-size:10.2px;color:#dccb3e;right:21.8px;transform-origin:right center;transform:translateY(-50%) scaleX(0.923);-webkit-text-stroke:0.3px;">20.72</div>
<div class="t" style="top:502.9px;font-size:10.2px;color:#dfe2ec;left:632.8px;transform-origin:left center;transform:translateY(-50%) scaleX(0.933);-webkit-text-stroke:0.3px;">1/00</div>
<div class="t" style="top:502.9px;font-size:10.2px;color:#dfe2ec;left:681.5px;transform-origin:left center;transform:translateY(-50%) scaleX(0.923);-webkit-text-stroke:0.3px;">6.127</div>
<div class="t" style="top:502.9px;font-size:10.2px;color:#dfe2ec;left:727.8px;transform-origin:left center;transform:translateY(-50%) scaleX(0.949);-webkit-text-stroke:0.3px;">25=004</div>
<div class="t" style="top:502.9px;font-size:10.2px;color:#dfe2ec;left:790.5px;transform-origin:left center;transform:translateY(-50%) scaleX(0.952);-webkit-text-stroke:0.3px;">10637</div>
<div class="t" style="top:502.9px;font-size:10.2px;color:#dfe2ec;left:838.5px;transform-origin:left center;transform:translateY(-50%) scaleX(0.933);-webkit-text-stroke:0.3px;">1.81</div>
<div class="t" style="top:502.9px;font-size:10.2px;color:#dfe2ec;right:80.4px;transform-origin:right center;transform:translateY(-50%) scaleX(0.950);-webkit-text-stroke:0.3px;">-4.52</div>
<div class="t" style="top:502.9px;font-size:10.2px;color:#dccb3e;right:21.8px;transform-origin:right center;transform:translateY(-50%) scaleX(0.927);-webkit-text-stroke:0.3px;">6376</div>
<div class="t" style="top:529.2px;font-size:10.2px;color:#161e3d;left:632.8px;transform-origin:left center;transform:translateY(-50%) scaleX(0.919);-webkit-text-stroke:0.3px;">P2044</div>
<div class="t" style="top:529.2px;font-size:10.2px;color:#161e3d;left:681.5px;transform-origin:left center;transform:translateY(-50%) scaleX(0.933);-webkit-text-stroke:0.3px;">3.17</div>
<div class="t" style="top:529.2px;font-size:10.2px;color:#161e3d;left:727.8px;transform-origin:left center;transform:translateY(-50%) scaleX(0.941);-webkit-text-stroke:0.3px;">22–254</div>
<div class="t" style="top:529.2px;font-size:10.2px;color:#161e3d;left:790.5px;transform-origin:left center;transform:translateY(-50%) scaleX(0.927);-webkit-text-stroke:0.3px;">8207</div>
<div class="t" style="top:529.2px;font-size:10.2px;color:#161e3d;left:838.5px;transform-origin:left center;transform:translateY(-50%) scaleX(0.933);-webkit-text-stroke:0.3px;">2.48</div>
<div class="t" style="top:529.2px;font-size:10.2px;color:#161e3d;right:80.4px;transform-origin:right center;transform:translateY(-50%) scaleX(0.923);-webkit-text-stroke:0.3px;">40.77</div>
<div class="t" style="top:529.2px;font-size:10.2px;color:#161e3d;right:21.8px;transform-origin:right center;transform:translateY(-50%) scaleX(0.923);-webkit-text-stroke:0.3px;">12.78</div>
<div class="t" style="top:554.6px;font-size:10.2px;color:#dfe2ec;left:632.8px;transform-origin:left center;transform:translateY(-50%) scaleX(0.952);-webkit-text-stroke:0.3px;">12110</div>
<div class="t" style="top:554.6px;font-size:10.2px;color:#dfe2ec;left:681.5px;transform-origin:left center;transform:translateY(-50%) scaleX(0.923);-webkit-text-stroke:0.3px;">1.448</div>
<div class="t" style="top:554.6px;font-size:10.2px;color:#dfe2ec;left:727.8px;transform-origin:left center;transform:translateY(-50%) scaleX(0.941);-webkit-text-stroke:0.3px;">57–258</div>
<div class="t" style="top:554.6px;font-size:10.2px;color:#dfe2ec;left:790.5px;transform-origin:left center;transform:translateY(-50%) scaleX(0.923);-webkit-text-stroke:0.3px;">8.259</div>
<div class="t" style="top:554.6px;font-size:10.2px;color:#dfe2ec;left:838.5px;transform-origin:left center;transform:translateY(-50%) scaleX(0.933);-webkit-text-stroke:0.3px;">1.68</div>
<div class="t" style="top:554.6px;font-size:10.2px;color:#dfe2ec;right:80.4px;transform-origin:right center;transform:translateY(-50%) scaleX(0.993);-webkit-text-stroke:0.3px;">-4.11</div>
<div class="t" style="top:554.6px;font-size:10.2px;color:#dccb3e;right:21.8px;transform-origin:right center;transform:translateY(-50%) scaleX(0.923);-webkit-text-stroke:0.3px;">1.839</div>
<div class="t" style="top:577.6px;font-size:10.2px;color:#dfe2ec;left:632.8px;transform-origin:left center;transform:translateY(-50%) scaleX(0.927);-webkit-text-stroke:0.3px;">1217</div>
<div class="t" style="top:577.6px;font-size:10.2px;color:#dfe2ec;left:681.5px;transform-origin:left center;transform:translateY(-50%) scaleX(0.923);-webkit-text-stroke:0.3px;">4.849</div>
<div class="t" style="top:577.6px;font-size:10.2px;color:#dfe2ec;left:727.8px;transform-origin:left center;transform:translateY(-50%) scaleX(0.941);-webkit-text-stroke:0.3px;">37–208</div>
<div class="t" style="top:577.6px;font-size:10.2px;color:#dfe2ec;left:790.5px;transform-origin:left center;transform:translateY(-50%) scaleX(0.923);-webkit-text-stroke:0.3px;">8.177</div>
<div class="t" style="top:577.6px;font-size:10.2px;color:#dfe2ec;left:838.5px;transform-origin:left center;transform:translateY(-50%) scaleX(0.933);-webkit-text-stroke:0.3px;">2.85</div>
<div class="t" style="top:577.6px;font-size:10.2px;color:#dfe2ec;right:80.4px;transform-origin:right center;transform:translateY(-50%) scaleX(0.950);-webkit-text-stroke:0.3px;">-6.17</div>
<div class="t" style="top:577.6px;font-size:10.2px;color:#dccb3e;right:21.8px;transform-origin:right center;transform:translateY(-50%) scaleX(0.927);-webkit-text-stroke:0.3px;">2327</div>
</body></html>
